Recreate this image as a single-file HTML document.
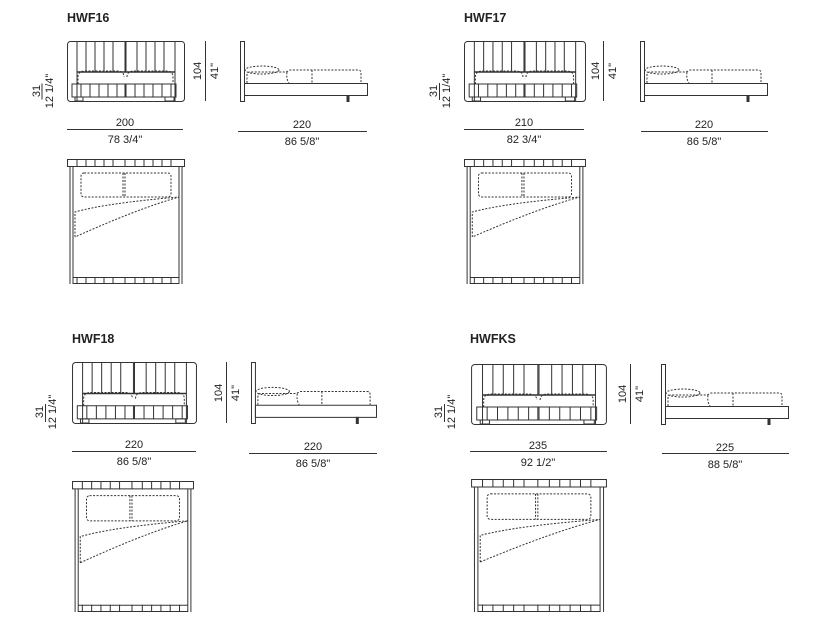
<!DOCTYPE html>
<html><head><meta charset="utf-8"><style>
html,body{margin:0;padding:0;background:#fff;}
svg{display:block;}
text{font-family:"Liberation Sans",Arial,sans-serif;fill:#222;}
.t{font-weight:bold;font-size:12.5px;}
.d{font-size:11px;}
</style></head><body>
<svg width="814" height="632" viewBox="0 0 814 632" xmlns="http://www.w3.org/2000/svg">
<defs>
<symbol id="front" viewBox="0 0 118 61" preserveAspectRatio="none">
 <g fill="none" stroke="#333" stroke-width="1" vector-effect="non-scaling-stroke">
  <rect x="0.5" y="0.5" width="117" height="60" rx="3" vector-effect="non-scaling-stroke"/>
  <path d="M10 0V60M108 0V60M19 0V31M28 0V31M37 0V31M46 0V31M58 0V31M59 0V31M70 0V31M79 0V31M88 0V31M97 0V31" vector-effect="non-scaling-stroke"/>
  <path d="M11 43V36Q11 30 18 30H50Q57 30 57 36M60 36Q60 30 67 30H99Q106 30 106 36V43" stroke-dasharray="2 1.5" vector-effect="non-scaling-stroke"/>
  <path d="M10 31H108" stroke-width="1.5" vector-effect="non-scaling-stroke"/>
  <rect x="5" y="43" width="104" height="13" vector-effect="non-scaling-stroke"/>
  <path d="M14 43V56M23 43V56M32 43V56M41 43V56M50 43V56M58 43V56M59 43V56M68 43V56M77 43V56M86 43V56M95 43V56M104 43V56" vector-effect="non-scaling-stroke"/>
  <rect x="8" y="56" width="8" height="4" vector-effect="non-scaling-stroke"/>
  <rect x="98" y="56" width="9" height="4" vector-effect="non-scaling-stroke"/>
 </g>
</symbol>
<symbol id="side" viewBox="0 0 128 61" preserveAspectRatio="none">
 <g fill="none" stroke="#333" stroke-width="1">
  <rect x="0.5" y="0.5" width="4" height="60" vector-effect="non-scaling-stroke"/>
  <rect x="4.5" y="42.5" width="123" height="12" vector-effect="non-scaling-stroke"/>
  <rect x="107" y="54.5" width="2" height="6" fill="#333" vector-effect="non-scaling-stroke"/>
  <g stroke-dasharray="2 1.5">
   <ellipse cx="22" cy="29" rx="17" ry="4" vector-effect="non-scaling-stroke"/>
   <path d="M7 42V34Q7 31 10 31H44Q47 31 50 29H118Q121 29 121 32V42" vector-effect="non-scaling-stroke"/>
   <path d="M47 31Q46 38 49 42M72 29V42" vector-effect="non-scaling-stroke"/>
  </g>
 </g>
</symbol>
<symbol id="top" viewBox="0 0 118 125" preserveAspectRatio="none">
 <g fill="none" stroke="#333" stroke-width="1">
  <rect x="0.5" y="0.5" width="117" height="7" vector-effect="non-scaling-stroke"/>
  <path d="M3 7.5V125M6 7.5V125M112 7.5V125M115 7.5V125" vector-effect="non-scaling-stroke"/>
  <path d="M10 0V8M19 0V8M28 0V8M37 0V8M46 0V8M58 0V8M68 0V8M77 0V8M86 0V8M95 0V8M104 0V8" vector-effect="non-scaling-stroke"/>
  <path d="M6 118.5H112M6 124.5H112M10 118V125M19 118V125M28 118V125M37 118V125M46 118V125M58 118V125M68 118V125M77 118V125M86 118V125M95 118V125M104 118V125" vector-effect="non-scaling-stroke"/>
  <g stroke-dasharray="2 1.5">
   <rect x="14" y="14" width="90" height="24" rx="3" vector-effect="non-scaling-stroke"/>
   <path d="M56 14V38M58 14V38" vector-effect="non-scaling-stroke"/>
   <path d="M8 78V53Q40 44 112 38Q70 50 8 78" vector-effect="non-scaling-stroke"/>
  </g>
 </g>
</symbol>
</defs>

<!-- HWF16 -->
<text class="t" x="67" y="22">HWF16</text>
<use href="#front" x="67" y="41" width="118" height="61"/>
<line x1="205.5" y1="41" x2="205.5" y2="101" stroke="#333"/>
<text class="d" transform="translate(201,71) rotate(-90)" text-anchor="middle">104</text>
<text class="d" transform="translate(218,71) rotate(-90)" text-anchor="middle">41"</text>
<line x1="34" y1="91.5" x2="50" y2="91.5" stroke="#333" transform="rotate(-90 42 91.5)"/>
<text class="d" transform="translate(40,91) rotate(-90)" text-anchor="middle">31</text>
<text class="d" transform="translate(53,91) rotate(-90)" text-anchor="middle">12 1/4"</text>
<line x1="67" y1="129.5" x2="183" y2="129.5" stroke="#333"/>
<text class="d" x="125" y="126" text-anchor="middle">200</text>
<text class="d" x="125" y="143" text-anchor="middle">78 3/4"</text>
<use href="#side" x="240" y="41" width="128" height="61"/>
<line x1="238" y1="131.5" x2="367" y2="131.5" stroke="#333"/>
<text class="d" x="302" y="128" text-anchor="middle">220</text>
<text class="d" x="302" y="145" text-anchor="middle">86 5/8"</text>
<use href="#top" x="67" y="159" width="118" height="125"/>

<!-- HWF17 -->
<text class="t" x="464" y="22">HWF17</text>
<use href="#front" x="464" y="41" width="122" height="61"/>
<line x1="603.5" y1="41" x2="603.5" y2="101" stroke="#333"/>
<text class="d" transform="translate(599,71) rotate(-90)" text-anchor="middle">104</text>
<text class="d" transform="translate(616,71) rotate(-90)" text-anchor="middle">41"</text>
<line x1="439.5" y1="83" x2="439.5" y2="100" stroke="#333"/>
<text class="d" transform="translate(437,91) rotate(-90)" text-anchor="middle">31</text>
<text class="d" transform="translate(450,91) rotate(-90)" text-anchor="middle">12 1/4"</text>
<line x1="464" y1="129.5" x2="584" y2="129.5" stroke="#333"/>
<text class="d" x="524" y="126" text-anchor="middle">210</text>
<text class="d" x="524" y="143" text-anchor="middle">82 3/4"</text>
<use href="#side" x="640" y="41" width="128" height="61"/>
<line x1="641" y1="131.5" x2="768" y2="131.5" stroke="#333"/>
<text class="d" x="704" y="128" text-anchor="middle">220</text>
<text class="d" x="704" y="145" text-anchor="middle">86 5/8"</text>
<use href="#top" x="464" y="159" width="122" height="125"/>

<!-- HWF18 -->
<text class="t" x="72" y="343">HWF18</text>
<use href="#front" x="72" y="362" width="125" height="62"/>
<line x1="226.5" y1="362" x2="226.5" y2="423" stroke="#333"/>
<text class="d" transform="translate(222,393) rotate(-90)" text-anchor="middle">104</text>
<text class="d" transform="translate(239,393) rotate(-90)" text-anchor="middle">41"</text>
<line x1="45.5" y1="404" x2="45.5" y2="422" stroke="#333"/>
<text class="d" transform="translate(43,412) rotate(-90)" text-anchor="middle">31</text>
<text class="d" transform="translate(56,412) rotate(-90)" text-anchor="middle">12 1/4"</text>
<line x1="72" y1="451.5" x2="196" y2="451.5" stroke="#333"/>
<text class="d" x="134" y="448" text-anchor="middle">220</text>
<text class="d" x="134" y="465" text-anchor="middle">86 5/8"</text>
<use href="#side" x="251" y="362" width="126" height="62"/>
<line x1="249" y1="453.5" x2="377" y2="453.5" stroke="#333"/>
<text class="d" x="313" y="450" text-anchor="middle">220</text>
<text class="d" x="313" y="467" text-anchor="middle">86 5/8"</text>
<use href="#top" x="72" y="481" width="122" height="131"/>

<!-- HWFKS -->
<text class="t" x="470" y="343">HWFKS</text>
<use href="#front" x="471" y="364" width="136" height="61"/>
<line x1="630.5" y1="364" x2="630.5" y2="424" stroke="#333"/>
<text class="d" transform="translate(626,394) rotate(-90)" text-anchor="middle">104</text>
<text class="d" transform="translate(643,394) rotate(-90)" text-anchor="middle">41"</text>
<line x1="444.5" y1="404" x2="444.5" y2="422" stroke="#333"/>
<text class="d" transform="translate(442,412) rotate(-90)" text-anchor="middle">31</text>
<text class="d" transform="translate(455,412) rotate(-90)" text-anchor="middle">12 1/4"</text>
<line x1="470" y1="451.5" x2="607" y2="451.5" stroke="#333"/>
<text class="d" x="538" y="449" text-anchor="middle">235</text>
<text class="d" x="538" y="466" text-anchor="middle">92 1/2"</text>
<use href="#side" x="661" y="364" width="128" height="61"/>
<line x1="662" y1="453.5" x2="789" y2="453.5" stroke="#333"/>
<text class="d" x="725" y="451" text-anchor="middle">225</text>
<text class="d" x="725" y="468" text-anchor="middle">88 5/8"</text>
<use href="#top" x="471" y="479" width="136" height="133"/>
</svg>
</body></html>
